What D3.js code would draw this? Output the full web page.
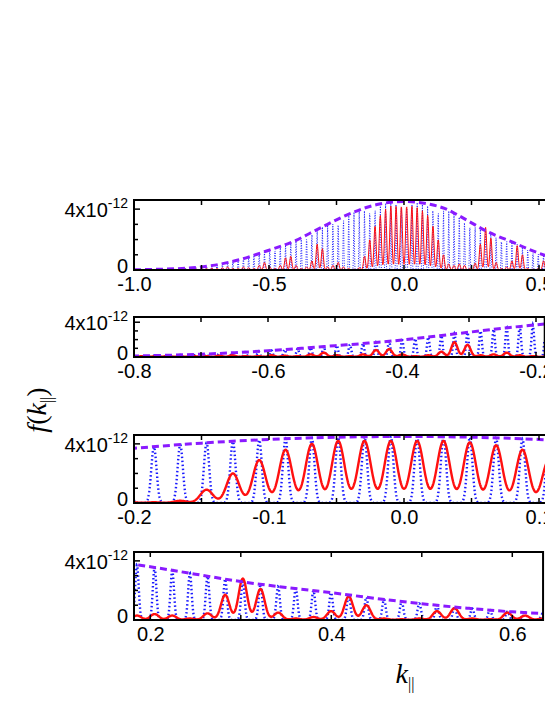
<!DOCTYPE html>
<html><head><meta charset="utf-8">
<script src="https://cdn.jsdelivr.net/npm/d3@7"></script>
<style>body{margin:0;background:#fff}</style>
</head><body>
<script>
// comb of peaks: k = (n + 0.5) * spacing, n from -52 to 51
const combSpacing = 0.0195;
const combStart = -52;
// envelope (dashed), sampled
const envK = [-1.0,-0.95,-0.9,-0.85,-0.8,-0.75,-0.7,-0.65,-0.6,-0.55,-0.5,-0.45,-0.4,-0.35,-0.3,-0.25,-0.2,-0.15,-0.1,-0.05,0,0.05,0.1,0.15,0.2,0.25,0.3,0.35,0.4,0.45,0.5,0.55,0.6,0.65,0.7,0.75,0.8,0.85,0.9,0.95,1.0];
const envF = [0.02,0.03,0.05,0.08,0.12,0.2,0.32,0.5,0.72,1.0,1.3,1.6,1.95,2.4,2.85,3.3,3.7,4.05,4.3,4.45,4.5,4.45,4.3,4.05,3.6,3.1,2.6,2.2,1.85,1.45,1.1,0.8,0.55,0.4,0.28,0.18,0.12,0.08,0.05,0.03,0.02];
// red (solid) peak heights per comb index, n = -52 .. 51
const redF = [
  0.02,0.02,0.03,0.02,0.03,0.04,0.03,0.05,0.04,0.06, // -52..-43
  0.05,0.08,0.06,0.1,0.08,0.12,0.1,0.15,0.2,0.1,     // -42..-33
  0.1,0.2,0.15,0.1,0.3,0.5,0.2,0.1,0.3,0.8,          // -32..-23
  0.9,0.3,0.1,0.2,0.6,1.7,1.4,0.2,0.3,0.5,           // -22..-13
  0.2,0.1,0.05,0.15,0.9,2.0,2.9,3.6,4.0,4.2,         // -12..-3
  4.2,4.2,4.2,4.2,4.1,3.9,3.6,2.9,2.0,1.0,           // -2..7
  0.4,0.3,0.4,0.3,0.1,0.45,1.7,2.8,2.1,0.5,          // 8..17
  0.1,0.2,0.6,1.6,1.0,0.1,0.05,0.1,0.6,0.8,          // 18..27
  0.1,0.05,0.5,0.3,0.1,0.08,0.05,0.1,0.06,0.04,      // 28..37
  0.05,0.03,0.04,0.03,0.02,0.03,0.02,0.02,0.02,0.02, // 38..47
  0.02,0.02,0.01,0.01                                // 48..51
];
const panelDomains = [[-1.0, 1.0], [-0.8, -0.187], [-0.2, 0.304], [0.182, 0.634]];
const panelXTicks = [[-1.0,-0.5,0.0,0.5], [-0.8,-0.6,-0.4,-0.2], [-0.2,-0.1,0.0,0.1], [0.2,0.4,0.6]];
const yMax = 4.6;

const W = 545, H = 705;
const FONT = "'Liberation Sans', Arial, sans-serif";
const svg = d3.select("body").append("svg").attr("width", W).attr("height", H)
  .style("font-family", FONT);

const panels = [
  {top: 200, bottom: 270, left: 134, pxPerUnit: 270, thin: true},
  {top: 317, bottom: 357, left: 134, pxPerUnit: 670},
  {top: 435, bottom: 503, left: 134, pxPerUnit: 1350},
  {top: 552, bottom: 620, left: 134, pxPerUnit: 905}
];

const envAt = d3.scaleLinear().domain(envK).range(envF);
const peaks = redF.map((r, i) => {
  const k = (combStart + i + 0.5) * combSpacing;
  return {k, red: r, blue: envAt(k)};
});

function curve(key, sigma, k0, k1, step) {
  const pts = [];
  for (let k = k0; k <= k1; k += step) {
    let v = 0;
    for (const p of peaks) {
      const d = (k - p.k) / sigma;
      if (Math.abs(d) < 6) v += p[key] * Math.exp(-0.5 * d * d);
    }
    pts.push([k, v]);
  }
  return pts;
}

const fmt = v => d3.format(".1f")(v).replace("−", "-");

panels.forEach((p, i) => {
  const [d0, d1] = panelDomains[i];
  const right = p.left + (d1 - d0) * p.pxPerUnit;
  const x = d3.scaleLinear().domain([d0, d1]).range([p.left, right]);
  const y = d3.scaleLinear().domain([0, yMax]).range([p.bottom, p.top]);
  const g = svg.append("g");
  const cid = "clip" + i;
  g.append("clipPath").attr("id", cid).append("rect")
    .attr("x", p.left).attr("y", p.top - 4).attr("width", right - p.left).attr("height", p.bottom - p.top + 4);
  const plot = g.append("g").attr("clip-path", `url(#${cid})`);
  const line = d3.line().x(d => x(d[0])).y(d => y(d[1]));
  const step = 0.4 / p.pxPerUnit;

  plot.append("path").datum(curve("blue", combSpacing * (p.thin ? 0.07 : 0.1), d0, d1, step))
    .attr("d", line).attr("fill", "none").attr("stroke", "#1a1aff")
    .attr("stroke-width", p.thin ? 1 : 2.4).attr("stroke-dasharray", p.thin ? "1,1.5" : "1.5,2.5");
  plot.append("path").datum(curve("red", combSpacing * (p.thin ? 0.2 : 0.24), d0, d1, step))
    .attr("d", line).attr("fill", "none").attr("stroke", "#ff1010")
    .attr("stroke-width", p.thin ? 1 : 2.4);
  plot.append("path").datum(envK.map((k, j) => [k, envF[j]]))
    .attr("d", d3.line().curve(d3.curveMonotoneX).x(d => x(d[0])).y(d => y(d[1])))
    .attr("fill", "none").attr("stroke", "#8a1aff").attr("stroke-width", 3)
    .attr("stroke-dasharray", "7,4");

  // frame
  g.append("rect").attr("x", p.left).attr("y", p.top).attr("width", right - p.left)
    .attr("height", p.bottom - p.top).attr("fill", "none").attr("stroke", "#000").attr("stroke-width", 2);

  // x ticks (inside, top and bottom)
  const half = (panelXTicks[i][1] - panelXTicks[i][0]) / 2;
  const tickX = d3.range(panelXTicks[i][0], d1 + 1e-9, half);
  g.append("g").attr("transform", `translate(0,${p.bottom})`)
    .call(d3.axisBottom(x).tickValues(panelXTicks[i]).tickSize(0).tickPadding(7).tickFormat(fmt))
    .call(a => a.select(".domain").remove())
    .call(a => a.selectAll("text").attr("font-size", 20).attr("font-family", FONT).attr("fill", "#000"));
  tickX.forEach(v => {
    [[p.top, p.top + 5], [p.bottom, p.bottom - 5]].forEach(([a, b]) =>
      g.append("line").attr("x1", x(v)).attr("x2", x(v)).attr("y1", a).attr("y2", b)
        .attr("stroke", "#000").attr("stroke-width", 1.5));
  });

  // y ticks
  [0, 1, 2, 3, 4].forEach(v => {
    g.append("line").attr("x1", p.left).attr("x2", p.left + (v % 4 === 0 ? 6 : 4))
      .attr("y1", y(v)).attr("y2", y(v)).attr("stroke", "#000").attr("stroke-width", 1.5);
  });
  g.append("text").attr("x", p.left - 6).attr("y", y(0) + 3).attr("text-anchor", "end")
    .attr("font-size", 20).text("0");
  const t = g.append("text").attr("x", p.left - 6).attr("y", y(4) + 8).attr("text-anchor", "end").attr("font-size", 20);
  t.append("tspan").text("4x10");
  t.append("tspan").attr("dy", -9).attr("font-size", 14).text("-12");
});

// axis titles
const yt = svg.append("text").attr("transform", "translate(46,410) rotate(-90)")
  .attr("text-anchor", "middle").attr("font-family", "'Liberation Serif', 'Times New Roman', serif")
  .attr("font-size", 28);
yt.append("tspan").attr("font-style", "italic").text("f");
yt.append("tspan").text("(");
yt.append("tspan").attr("font-style", "italic").text("k");
yt.append("tspan").attr("font-size", 16).attr("dy", 6).text("||");
yt.append("tspan").attr("dy", -6).text(")");

const xt = svg.append("text").attr("x", 405).attr("y", 683).attr("text-anchor", "middle")
  .attr("font-family", "'Liberation Serif', 'Times New Roman', serif").attr("font-size", 28);
xt.append("tspan").attr("font-style", "italic").text("k");
xt.append("tspan").attr("font-size", 16).attr("dy", 6).text("||");
</script>
</body></html>
